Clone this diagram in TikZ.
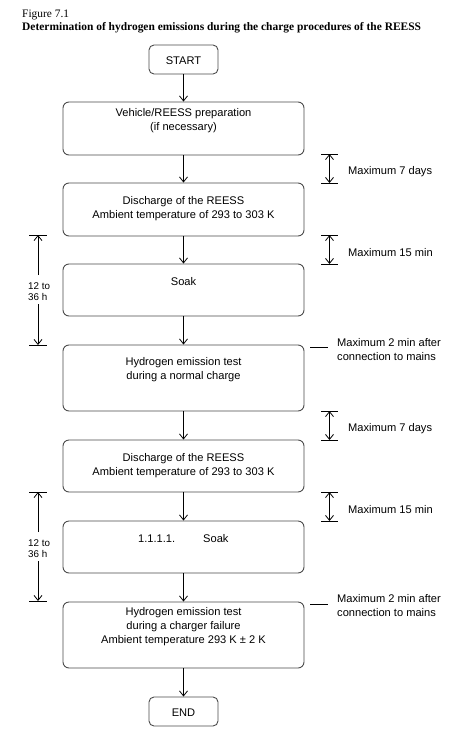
\documentclass[tikz,border=0pt]{standalone}
\usepackage{fontspec}
\setmainfont{Liberation Sans}
\newfontfamily\timesf{Liberation Serif}
\usetikzlibrary{arrows.meta}
\begin{document}
\begin{tikzpicture}[x=1pt,y=-1pt,
  box/.style={draw=black!70, line width=0.9pt, rounded corners=6pt, minimum width=241pt, inner sep=0pt},
  termbox/.style={draw=black!70, line width=0.9pt, rounded corners=5pt, minimum width=69pt, minimum height=29pt, inner sep=0pt},
  txt/.style={font=\fontsize{11.1}{14}\selectfont, align=center, inner sep=0pt},
  small/.style={font=\fontsize{9.8}{11}\selectfont, align=left, inner sep=0pt},
  flow/.style={line width=0.8pt, -{Straight Barb[length=5pt,width=8pt]}},
  dbl/.style={line width=0.8pt, {Straight Barb[length=5pt,width=8pt]}-{Straight Barb[length=5pt,width=8pt]}},
  tick/.style={line width=0.9pt}
]
\useasboundingbox (0,0) rectangle (469,729);
\fill[white] (0,0) rectangle (469,729);
% title
\node[anchor=base west, inner sep=0pt, font=\timesf\fontsize{11.4}{13}\selectfont] (fig) at (22,17.5) {Figure 7.1};
\node[anchor=base west, inner sep=0pt, font=\timesf\bfseries\fontsize{11.45}{13}\selectfont] (ttl) at (22,30.5) {Determination of hydrogen emissions during the charge procedures of the REESS};
% boxes
\node[termbox] (start) at (183.5,59.5) {};
\node[txt] at (183.5,61) {START};
\node[box, minimum height=53pt] (b1) at (183.5,128.5) {};
\node[txt] at (183.5,121) {Vehicle/REESS preparation\\(if necessary)};
\node[box, minimum height=53pt] (b2) at (183.5,209.5) {};
\node[txt] at (183.5,209) {Discharge of the REESS\\Ambient temperature of 293 to 303 K};
\node[box, minimum height=52pt] (b3) at (183.5,290) {};
\node[txt] at (183.5,281.5) {Soak};
\node[box, minimum height=66pt] (b4) at (183.5,378) {};
\node[txt] at (183.5,370) {Hydrogen emission test\\during a normal charge};
\node[box, minimum height=52pt] (b5) at (183.5,466) {};
\node[txt] at (183.5,465.5) {Discharge of the REESS\\Ambient temperature of 293 to 303 K};
\node[box, minimum height=52pt] (b6) at (183.5,547) {};
\node[txt, anchor=west] at (138,538.5) {1.1.1.1.};
\node[txt, anchor=west] at (203,538.5) {Soak};
\node[box, minimum height=66pt] (b7) at (183.5,635) {};
\node[txt] at (183.5,627) {Hydrogen emission test\\during a charger failure\\Ambient temperature 293 K ± 2 K};
\node[termbox] (end) at (183.5,711.5) {};
\node[txt] at (183.5,713) {END};
% flow arrows
\draw[flow] (start.south) -- (b1.north);
\draw[flow] (b1.south) -- (b2.north);
\draw[flow] (b2.south) -- (b3.north);
\draw[flow] (b3.south) -- (b4.north);
\draw[flow] (b4.south) -- (b5.north);
\draw[flow] (b5.south) -- (b6.north);
\draw[flow] (b6.south) -- (b7.north);
\draw[flow] (b7.south) -- (end.north);
% right brackets
\foreach \t/\b/\lab [count=\i] in {154/183/Maximum 7 days, 235/264/Maximum 15 min, 411/440/Maximum 7 days, 492/521/Maximum 15 min}{
  \coordinate (rt\i) at (329.5,\t);
  \coordinate (rb\i) at (329.5,\b);
  \draw[tick] (321,\t) -- (338,\t);
  \draw[tick] (321,\b) -- (338,\b);
  \draw[dbl] (rt\i) -- (rb\i);
  \node[txt, anchor=west] (rl\i) at (348,{(\t+\b)/2+3.5}) {\lab};
}
% connection to mains notes
\draw[tick] (310,347) -- (328,347);
\node[txt, align=left, anchor=west] (m1) at (337,350) {Maximum 2 min after\\connection to mains};
\draw[tick] (310,604) -- (328,604);
\node[txt, align=left, anchor=west] (m2) at (337,606) {Maximum 2 min after\\connection to mains};
% left brackets
\draw[tick] (29,235) -- (47,235);
\draw[tick] (29,345) -- (47,345);
\coordinate (la1) at (38,275);
\coordinate (la2) at (38,235);
\coordinate (la3) at (38,304);
\coordinate (la4) at (38,345);
\draw[flow] (la1) -- (la2);
\draw[flow] (la3) -- (la4);
\node[small, anchor=west] (lt1) at (28,292) {12 to\\36 h};
\draw[tick] (29,492) -- (47,492);
\draw[tick] (29,601) -- (47,601);
\coordinate (lb1) at (38,532);
\coordinate (lb2) at (38,492);
\coordinate (lb3) at (38,561);
\coordinate (lb4) at (38,601);
\draw[flow] (lb1) -- (lb2);
\draw[flow] (lb3) -- (lb4);
\node[small, anchor=west] (lt2) at (28,549) {12 to\\36 h};
\end{tikzpicture}
\end{document}
